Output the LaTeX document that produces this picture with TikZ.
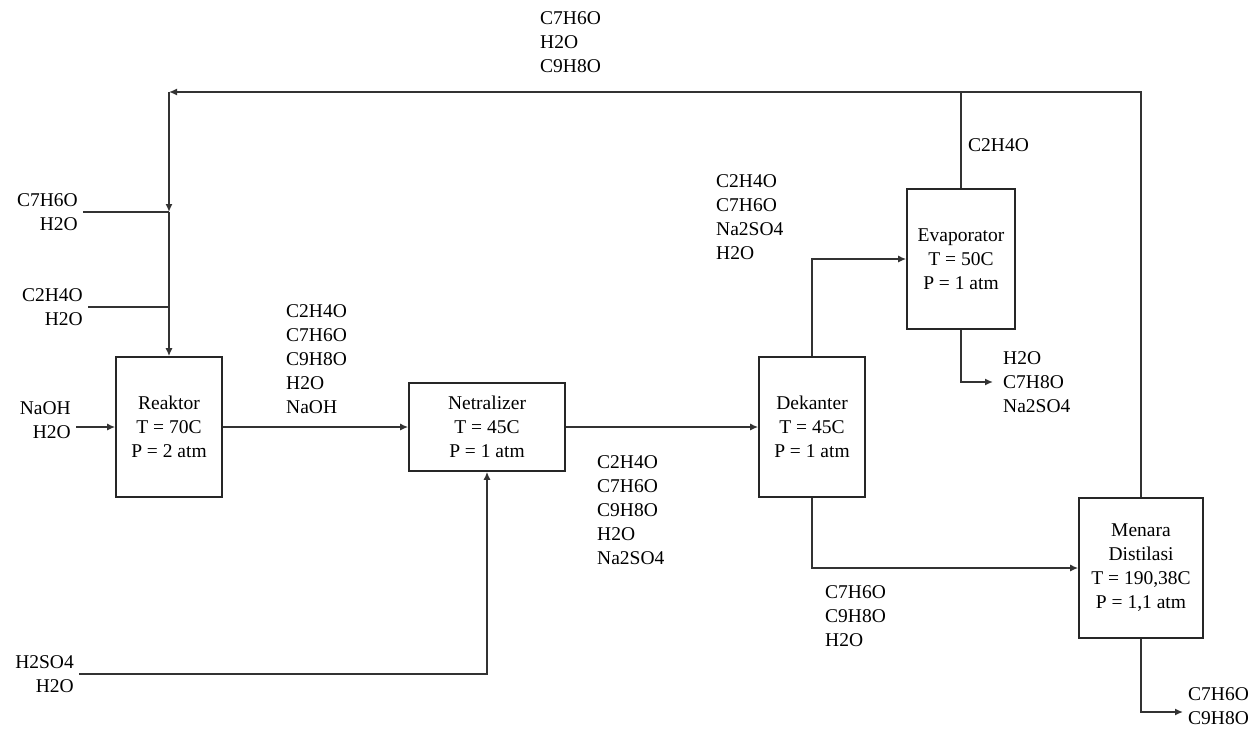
\documentclass[tikz,border=0pt]{standalone}
\usepackage{fontspec}
\setmainfont{Liberation Serif}
\usetikzlibrary{arrows.meta}

\begin{document}
\begin{tikzpicture}[x=1pt,y=-1pt,font=\fontsize{19.5}{24}\selectfont,
  unitbox/.style={draw=black!85,line width=1.6pt,align=center,inner sep=0pt},
  pipe/.style={draw=black!80,line width=1.5pt},
  flow/.style={pipe,-{Latex[length=8pt,width=7pt]}},
  stream/.style={align=left,anchor=west,inner sep=0pt},
  feed/.style={align=right,anchor=east,inner ysep=0pt,inner xsep=5pt}]
  \useasboundingbox (0,0) rectangle (1256,729);

  % process units
  \node[unitbox,minimum width=106pt,minimum height=140pt] (reaktor) at (169,427) {Reaktor\\T = 70C\\P = 2 atm};
  \node[unitbox,minimum width=156pt,minimum height=88pt] (netral) at (487,427) {Netralizer\\T = 45C\\P = 1 atm};
  \node[unitbox,minimum width=106pt,minimum height=140pt] (dekanter) at (812,427) {Dekanter\\T = 45C\\P = 1 atm};
  \node[unitbox,minimum width=108pt,minimum height=140pt] (evap) at (961,259) {Evaporator\\T = 50C\\P = 1 atm};
  \node[unitbox,minimum width=124pt,minimum height=140pt] (menara) at (1141,568) {Menara\\Distilasi\\T = 190,38C\\P = 1,1 atm};

  % feeds
  \node[feed] (f1) at (83,212) {C7H6O\\H2O};
  \node[feed] (f2) at (88,307) {C2H4O\\H2O};
  \node[feed] (f3) at (76,420) {NaOH\\H2O};
  \node[feed] (f4) at (79,674) {H2SO4\\H2O};

  % stream compositions
  \node[stream] (s1) at (286,359.5) {C2H4O\\C7H6O\\C9H8O\\H2O\\NaOH};
  \node[stream] (s2) at (597,510) {C2H4O\\C7H6O\\C9H8O\\H2O\\Na2SO4};
  \node[stream] (s3) at (716,217) {C2H4O\\C7H6O\\Na2SO4\\H2O};
  \node[stream] (s4) at (968,145) {C2H4O};
  \node[stream] (s5) at (540,42) {C7H6O\\H2O\\C9H8O};
  \node[stream] (s6) at (825,616) {C7H6O\\C9H8O\\H2O};
  \node[stream] (p1) at (1003,382) {H2O\\C7H8O\\Na2SO4};
  \node[stream] (p2) at (1188,706) {C7H6O\\C9H8O};

  \coordinate (rc) at (169,92);
  \coordinate (j1) at (169,212);
  \coordinate (j2) at (169,307);
  \coordinate (e1) at (993,382);
  \coordinate (m1) at (1183,712);

  % recycle line
  \draw[flow] (menara.north) |- (rc);
  \draw[pipe] (evap.north) -- (evap.north |- rc);
  \draw[flow] (rc) -- (j1);
  \draw[flow] (j1) -- (reaktor.north);
  \draw[pipe] (f1.east) -- (j1);
  \draw[pipe] (f2.east) -- (j2);

  % main line
  \draw[flow] (f3.east |- reaktor.west) -- (reaktor.west);
  \draw[flow] (reaktor) -- (netral);
  \draw[flow] (f4.east) -| (netral.south);
  \draw[flow] (netral) -- (dekanter);
  \draw[flow] (dekanter.north) |- (evap.west);
  \draw[flow] (evap.south) |- (e1);
  \draw[flow] (dekanter.south) |- (menara.west);
  \draw[flow] (menara.south) |- (m1);
\end{tikzpicture}
\end{document}
